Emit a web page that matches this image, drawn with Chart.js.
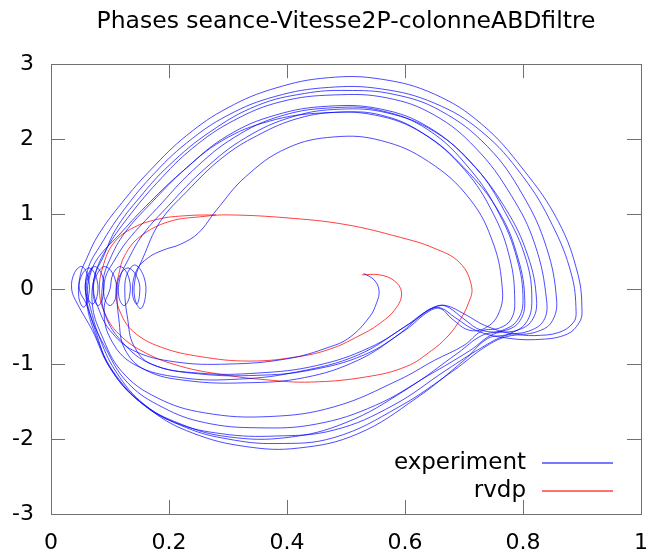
<!DOCTYPE html>
<html>
<head>
<meta charset="utf-8">
<script src="https://cdn.jsdelivr.net/npm/chart.js@4.4.0/dist/chart.umd.min.js"></script>
<style>
  body { margin: 0; background: #fff; }
  #wrap { width: 652px; height: 555px; position: relative; }
</style>
</head>
<body>
<div id="wrap"><canvas id="phase-chart"></canvas></div>
<script>
// tick values of the axes
const xTicks = [0, 0.2, 0.4, 0.6, 0.8, 1];
const yTicks = [-3, -2, -1, 0, 1, 2, 3];

// experiment trajectory (position, velocity)
const experimentPath = [
  // start near the rvdp initial point
  [0.53,0.21],[0.548,0.12],[0.556,-0.02],[0.552,-0.18],[0.54,-0.37],[0.507,-0.64],[0.473,-0.77],[0.4,-0.93],[0.3,-1.0],[0.21,-0.97],[0.14,-0.82],[0.1,-0.55],[0.08,-0.25],
  [0.072,0],[0.078,0.2],[0.092,0.3],[0.108,0.15],[0.11,-0.1],[0.1,-0.22],[0.09,-0.1],[0.092,0.15],[0.105,0.35],
  // lap 1
  [0.13,0.65],[0.18,1.08],[0.24,1.58],[0.31,2.02],[0.39,2.31],[0.48,2.42],[0.56,2.38],[0.64,2.12],[0.71,1.6],[0.76,1.0],[0.79,0.4],[0.8,-0.15],
  [0.79,-0.42],[0.765,-0.55],[0.73,-0.62],[0.69,-0.85],[0.6,-1.35],[0.5,-1.78],[0.4,-1.98],[0.3,-1.97],[0.22,-1.8],[0.15,-1.5],[0.1,-1.05],[0.07,-0.55],[0.045,-0.2],
  [0.035,0],[0.04,0.22],[0.053,0.3],[0.064,0.12],[0.063,-0.12],[0.055,-0.24],[0.047,-0.1],[0.05,0.2],[0.06,0.4],
  // lap 2 (outermost)
  [0.08,0.72],[0.12,1.15],[0.17,1.6],[0.23,2.05],[0.3,2.42],[0.38,2.68],[0.47,2.82],[0.56,2.8],[0.65,2.6],[0.73,2.2],[0.8,1.6],[0.86,0.9],[0.893,0.2],[0.9,-0.3],
  [0.895,-0.45],[0.875,-0.6],[0.83,-0.67],[0.77,-0.65],[0.72,-0.55],[0.685,-0.38],[0.66,-0.25],[0.64,-0.28],[0.6,-0.5],[0.52,-0.88],[0.42,-1.1],[0.32,-1.2],[0.22,-1.18],[0.14,-1.0],[0.1,-0.65],[0.09,-0.25],
  [0.1,0],[0.105,0.2],[0.118,0.3],[0.132,0.15],[0.133,-0.1],[0.124,-0.22],[0.115,-0.1],[0.117,0.15],[0.128,0.35],
  // lap 3
  [0.155,0.72],[0.2,1.12],[0.26,1.6],[0.33,2.02],[0.41,2.3],[0.49,2.4],[0.57,2.35],[0.65,2.1],[0.72,1.62],[0.77,1.02],[0.805,0.4],[0.815,-0.15],
  [0.805,-0.45],[0.775,-0.6],[0.74,-0.66],[0.7,-0.95],[0.62,-1.45],[0.52,-1.93],[0.42,-2.12],[0.33,-2.1],[0.24,-1.92],[0.17,-1.62],[0.11,-1.15],[0.075,-0.6],[0.06,-0.15],
  [0.062,0.25],[0.085,0.6],
  // lap 4
  [0.12,1.02],[0.17,1.5],[0.23,1.95],[0.3,2.32],[0.38,2.57],[0.47,2.69],[0.56,2.67],[0.65,2.48],[0.73,2.1],[0.8,1.5],[0.85,0.85],[0.882,0.2],[0.89,-0.3],
  [0.885,-0.45],[0.86,-0.58],[0.82,-0.62],[0.78,-0.62],[0.74,-0.75],[0.68,-1.1],[0.59,-1.57],[0.48,-1.98],[0.38,-2.06],[0.3,-2.0],[0.23,-1.85],[0.16,-1.55],[0.11,-1.1],[0.08,-0.6],[0.065,-0.2],
  [0.058,0],[0.063,0.2],[0.075,0.3],[0.088,0.15],[0.088,-0.1],[0.08,-0.22],[0.072,-0.1],[0.074,0.18],[0.088,0.42],
  // lap 5
  [0.11,0.8],[0.15,1.22],[0.2,1.65],[0.27,2.1],[0.35,2.45],[0.43,2.61],[0.5,2.65],[0.58,2.6],[0.66,2.38],[0.74,1.9],[0.8,1.25],[0.84,0.55],[0.857,-0.15],
  [0.85,-0.42],[0.83,-0.55],[0.79,-0.6],[0.74,-0.5],[0.7,-0.33],[0.67,-0.22],[0.65,-0.24],[0.61,-0.45],[0.54,-0.78],[0.45,-1.02],[0.35,-1.12],[0.25,-1.12],[0.17,-1.0],[0.14,-0.75],[0.13,-0.4],
  [0.125,0],[0.13,0.22],[0.143,0.32],[0.158,0.15],[0.16,-0.1],[0.152,-0.26],[0.142,-0.12],[0.143,0.15],[0.155,0.4],
  // lap 6
  [0.185,0.9],[0.23,1.3],[0.29,1.75],[0.35,2.05],[0.42,2.28],[0.49,2.36],[0.56,2.32],[0.63,2.08],[0.7,1.6],[0.75,1.0],[0.778,0.4],[0.786,-0.15],
  [0.78,-0.4],[0.76,-0.52],[0.73,-0.56],[0.7,-0.75],[0.65,-0.95],[0.59,-1.21],[0.48,-1.57],[0.37,-1.7],[0.26,-1.65],[0.18,-1.45],[0.12,-1.1],[0.085,-0.6],[0.07,-0.2],
  [0.075,0.2],[0.095,0.55],
  // lap 7
  [0.13,0.95],[0.18,1.42],[0.24,1.88],[0.31,2.25],[0.39,2.5],[0.48,2.59],[0.57,2.55],[0.65,2.32],[0.72,1.88],[0.78,1.25],[0.82,0.6],[0.84,-0.15],
  [0.835,-0.42],[0.81,-0.56],[0.77,-0.62],[0.73,-0.78],[0.67,-1.08],[0.58,-1.55],[0.48,-1.88],[0.38,-1.96],[0.29,-1.93],[0.21,-1.78],[0.15,-1.5],[0.1,-1.05],[0.075,-0.55],[0.06,-0.2],
  [0.048,0],[0.053,0.2],[0.066,0.28],[0.078,0.12],[0.078,-0.1],[0.07,-0.2],[0.062,-0.08],[0.066,0.18],[0.08,0.42],
  // lap 8
  [0.115,0.72],[0.16,1.1],[0.22,1.55],[0.29,1.98],[0.37,2.24],[0.46,2.35],[0.55,2.32],[0.63,2.08],[0.7,1.62],[0.76,1.02],[0.792,0.4],[0.803,-0.15],
  [0.795,-0.42],[0.77,-0.55],[0.73,-0.55],[0.7,-0.4],[0.675,-0.25],[0.66,-0.22],[0.635,-0.3],[0.59,-0.6],[0.52,-0.95],[0.43,-1.18],[0.33,-1.25],[0.23,-1.22],[0.16,-1.08],[0.125,-0.8],[0.115,-0.4],
  [0.112,0],[0.118,0.2],[0.132,0.28],[0.148,0.12],[0.15,-0.08],[0.145,-0.2],[0.138,-0.05],[0.145,0.25],[0.165,0.42],[0.19,0.52],[0.22,0.6],[0.25,0.75],
  // lap 9 (innermost)
  [0.28,1.05],[0.33,1.5],[0.4,1.88],[0.48,2.03],[0.56,1.98],[0.64,1.7],[0.71,1.2],[0.75,0.6],[0.765,0],[0.76,-0.3],[0.74,-0.5],[0.71,-0.55],
  [0.68,-0.4],[0.66,-0.26],[0.64,-0.3],[0.6,-0.55],[0.53,-0.88],[0.44,-1.08],[0.35,-1.15],[0.25,-1.13],[0.17,-1.0],[0.12,-0.7],[0.09,-0.3],
  [0.088,0.1],[0.1,0.4],[0.125,0.75],
  // lap 10
  [0.17,1.15],[0.23,1.62],[0.3,2.05],[0.38,2.32],[0.47,2.44],[0.56,2.4],[0.64,2.16],[0.71,1.7],[0.77,1.08],[0.808,0.45],[0.823,-0.15],
  [0.815,-0.42],[0.79,-0.55],[0.75,-0.6],[0.71,-0.82],[0.64,-1.15],[0.55,-1.55],[0.45,-1.8],[0.35,-1.85],[0.26,-1.78],[0.19,-1.58],[0.13,-1.25],[0.09,-0.75],[0.065,-0.3],
  [0.06,0.05],[0.07,0.3]
];

// rvdp model trajectory, spiralling out from the same start
const rvdpPath = [
  [0.527,0.19],[0.557,0.19],[0.582,0.11],[0.594,-0.04],[0.586,-0.24],[0.557,-0.46],[0.518,-0.64],[0.473,-0.8],[0.42,-0.9],[0.337,-0.96],[0.253,-0.9],[0.185,-0.77],[0.14,-0.57],[0.118,-0.32],[0.11,-0.05],[0.115,0.2],[0.125,0.45],[0.151,0.7],[0.2,0.9],[0.26,0.97],
  [0.3,0.99],[0.4,0.95],[0.5,0.86],[0.592,0.69],[0.648,0.55],[0.693,0.35],[0.713,0.03],[0.707,-0.2],[0.69,-0.45],[0.67,-0.65],[0.645,-0.82],[0.603,-1.03],[0.535,-1.17],[0.44,-1.24],[0.365,-1.21],[0.29,-1.14],[0.22,-1.03],[0.16,-0.85],[0.115,-0.6],[0.09,-0.3],[0.082,0],[0.088,0.3],[0.105,0.6],[0.135,0.8],[0.18,0.93],[0.23,0.98],[0.28,0.99]
];

const seriesNames = ["experiment", "rvdp"];
const seriesColors = ["rgba(0, 0, 255, 0.7)", "rgba(255, 0, 0, 0.75)"];

Chart.defaults.font.family = "'DejaVu Sans', sans-serif";
Chart.defaults.color = "#000";

// gnuplot style: border box, inward ticks on all sides, legend inside bottom right
const gnuplotFrame = {
  id: "gnuplotFrame",
  afterDatasetsDraw(chart) {
    const ctx = chart.ctx;
    const area = chart.chartArea;
    const xs = chart.scales.x;
    const ys = chart.scales.y;
    const tick = 14;
    ctx.save();
    ctx.strokeStyle = "#707070";
    ctx.lineWidth = 1;
    ctx.beginPath();
    xTicks.forEach((v) => {
      const p = Math.round(xs.getPixelForValue(v)) + 0.5;
      ctx.moveTo(p, area.bottom);
      ctx.lineTo(p, area.bottom - tick);
      ctx.moveTo(p, area.top);
      ctx.lineTo(p, area.top + tick);
    });
    yTicks.forEach((v) => {
      const p = Math.round(ys.getPixelForValue(v)) + 0.5;
      ctx.moveTo(area.left, p);
      ctx.lineTo(area.left + tick, p);
      ctx.moveTo(area.right, p);
      ctx.lineTo(area.right - tick, p);
    });
    ctx.stroke();
    ctx.strokeRect(Math.round(area.left) + 0.5, Math.round(area.top) + 0.5,
      Math.round(area.right - area.left), Math.round(area.bottom - area.top));

    // legend
    ctx.font = "23px 'DejaVu Sans', sans-serif";
    ctx.textAlign = "right";
    ctx.textBaseline = "middle";
    ctx.lineWidth = 1.5;
    seriesNames.forEach((name, i) => {
      const y = 463 + i * 28;
      ctx.fillStyle = "#000";
      ctx.fillText(name, 526, y);
      ctx.beginPath();
      ctx.strokeStyle = seriesColors[i];
      ctx.moveTo(542, y);
      ctx.lineTo(613, y);
      ctx.stroke();
    });
    ctx.restore();
  },
};

function initializePhaseChart() {
  const ctx = document.getElementById("phase-chart").getContext("2d");
  const paths = [experimentPath, rvdpPath];

  new Chart(ctx, {
    type: "scatter",
    data: {
      datasets: paths.map((path, i) => ({
        label: seriesNames[i],
        data: path.map((p) => ({ x: p[0], y: p[1] })),
        showLine: true,
        borderColor: seriesColors[i],
        backgroundColor: seriesColors[i],
        borderWidth: 1,
        pointRadius: 0,
        tension: 0.4,
      })),
    },
    options: {
      responsive: true,
      maintainAspectRatio: false,
      animation: false,
      layout: { padding: { right: 11 } },
      scales: {
        x: {
          type: "linear",
          min: 0,
          max: 1,
          afterBuildTicks: (s) => { s.ticks = xTicks.map((v) => ({ value: v })); },
          afterFit: (s) => { s.height = 41; s.paddingLeft = 0; s.paddingRight = 0; },
          ticks: { font: { size: 22 }, padding: 16, maxRotation: 0, autoSkip: false, callback: (v) => String(v) },
          grid: { display: false, drawTicks: false },
          border: { display: false },
        },
        y: {
          type: "linear",
          min: -3,
          max: 3,
          afterBuildTicks: (s) => { s.ticks = yTicks.map((v) => ({ value: v })); },
          afterFit: (s) => { s.width = 51; s.paddingTop = 0; s.paddingBottom = 0; },
          ticks: { font: { size: 22 }, padding: 17, autoSkip: false, callback: (v) => String(v) },
          grid: { display: false, drawTicks: false },
          border: { display: false },
        },
      },
      plugins: {
        legend: { display: false },
        tooltip: { enabled: false },
        title: {
          display: true,
          fullSize: false,
          text: "Phases seance-Vitesse2P-colonneABDfiltre",
          font: { size: 23.5, weight: "normal" },
          color: "#000",
          padding: { top: 8, bottom: 28 },
        },
      },
    },
    plugins: [gnuplotFrame],
  });
}

document.addEventListener("DOMContentLoaded", initializePhaseChart);
</script>
</body>
</html>
